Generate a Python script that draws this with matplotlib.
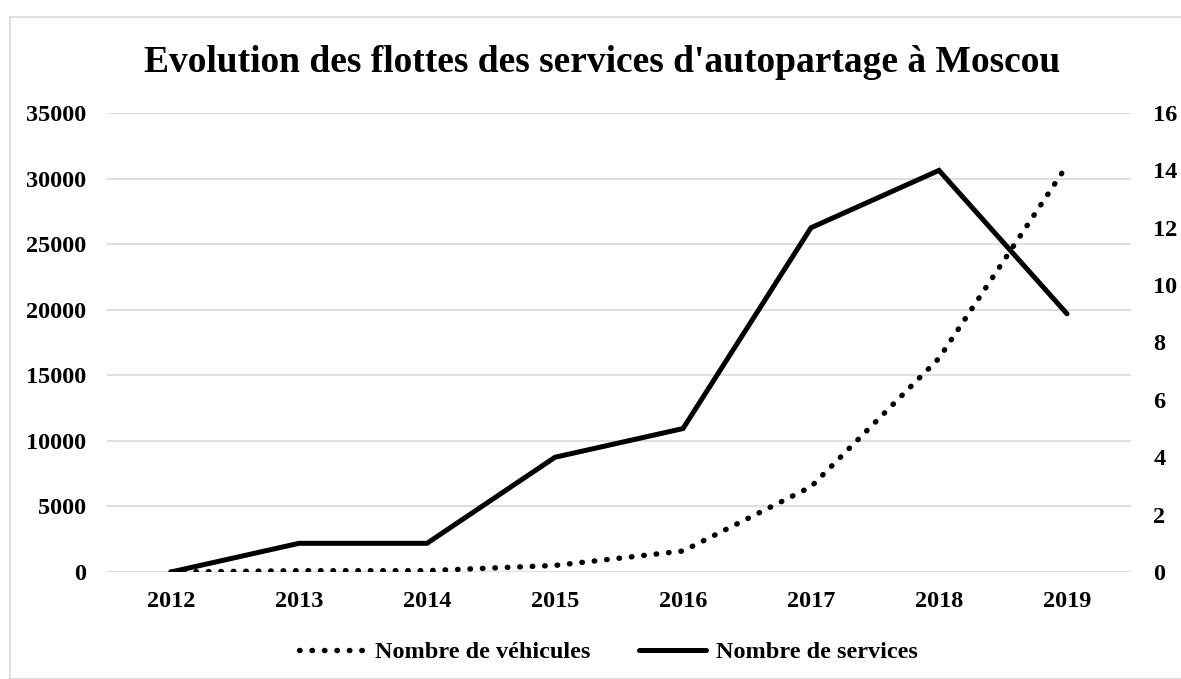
import matplotlib
matplotlib.use("Agg")
import matplotlib.pyplot as plt
from matplotlib.patches import Rectangle

years = ["2012", "2013", "2014", "2015", "2016", "2017", "2018", "2019"]
vehicules = [0, 100, 100, 500, 1600, 6500, 16300, 31000]
services = [0, 1, 1, 4, 5, 12, 14, 9]

plt.rcParams['font.family'] = ['Liberation Serif', 'DejaVu Serif']
plt.rcParams['font.weight'] = 'bold'

W, H = 1181, 679
fig = plt.figure(figsize=(W / 100, H / 100), dpi=100)

# grey frame of the chart area
fig.patches.append(Rectangle((10 / W, 0), 1.2, 1 - 17 / H, transform=fig.transFigure,
                             fill=False, edgecolor='#d9d9d9', lw=1.2))

ax = fig.add_axes([107 / W, 1 - 572 / H, (1131 - 107) / W, (572 - 113) / H])
ax2 = ax.twinx()

x = list(range(len(years)))
l1, = ax.plot(x, vehicules, color='black', lw=3.9, linestyle=(0, (0.1, 2.2)),
              dash_capstyle='round', label='Nombre de véhicules')
l2, = ax2.plot(x, services, color='black', lw=3.6, solid_capstyle='round',
               solid_joinstyle='miter', label='Nombre de services')

ax.set_xlim(-0.5, 7.5)
ax.set_ylim(0, 35000)
ax.set_yticks(range(0, 35001, 5000))
ax2.set_ylim(0, 16)
ax2.set_yticks(range(0, 17, 2))
ax.set_xticks(x)
ax.set_xticklabels(years)

ax.grid(axis='y', color='#d9d9d9', lw=1.2)
ax.set_axisbelow(True)
for a in (ax, ax2):
    for s in a.spines.values():
        s.set_visible(False)
    a.tick_params(length=0, labelsize=17.5)
    for lab in a.get_xticklabels() + a.get_yticklabels():
        lab.set_fontweight('bold')
ax.tick_params(axis='y', pad=15)
ax.tick_params(axis='x', pad=14)
ax2.tick_params(axis='y', pad=16)

fig.text(0.510, 1 - 62 / H, "Evolution des flottes des services d'autopartage à Moscou",
         ha='center', va='center', fontsize=27, fontweight='bold')

fig.legend(handles=[l1, l2], loc='center', bbox_to_anchor=(608 / W, 1 - 652 / H), ncol=2,
           frameon=False, prop={'weight': 'bold', 'size': 17.5}, handlelength=2.75,
           columnspacing=2.0, handletextpad=0.4)

fig.savefig("out.png", dpi=100)
